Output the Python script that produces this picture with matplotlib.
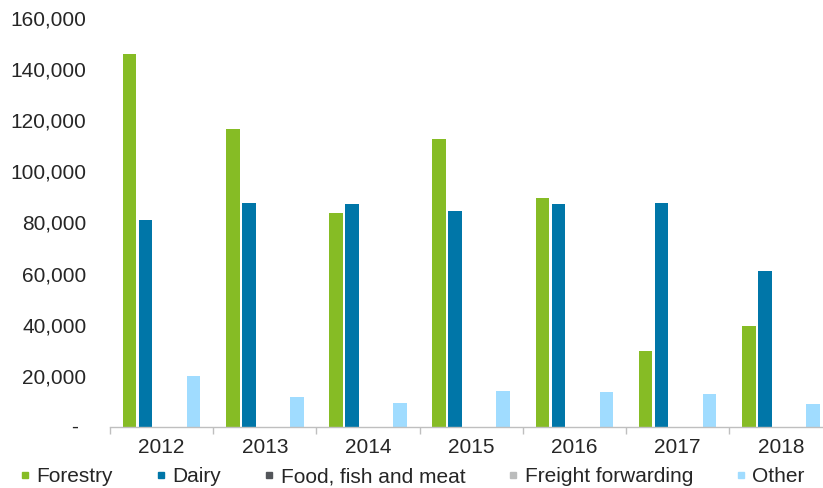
import matplotlib
matplotlib.use("Agg")
import matplotlib.pyplot as plt
from matplotlib.lines import Line2D
from matplotlib.ticker import FuncFormatter
import numpy as np

years = ["2012", "2013", "2014", "2015", "2016", "2017", "2018"]
series_names = ["Forestry", "Dairy", "Food, fish and meat", "Freight forwarding", "Other"]
forestry = [146000, 116700, 83700, 112800, 89700, 29600, 39600]
dairy = [81100, 87800, 87200, 84600, 87200, 87800, 61100]
food_fish_meat = [0, 0, 0, 0, 0, 0, 0]
freight_forwarding = [0, 0, 0, 0, 0, 0, 0]
other = [20000, 11600, 9500, 14100, 13500, 13000, 9000]
yticks = [0, 20000, 40000, 60000, 80000, 100000, 120000, 140000, 160000]

colors = ["#86BC25", "#0076A8", "#53565A", "#BBBCBC", "#A0DCFF"]
series = [forestry, dairy, food_fish_meat, freight_forwarding, other]

plt.rcParams['font.family'] = ['Liberation Sans', 'DejaVu Sans']
text_color = "#262626"
fs = 15

fig = plt.figure(figsize=(8.23, 4.88), dpi=100)
ax = fig.add_axes([110/823, 61/488, (7*103.2)/823, (427-18)/488])

x = np.arange(len(years))
step = 0.155
width = 0.133
for i, (name, vals, c) in enumerate(zip(series_names, series, colors)):
    ax.bar(x + (i-2)*step, vals, width=width, color=c, label=name, zorder=2)

ax.set_xlim(-0.5, len(years)-0.5)
ax.set_ylim(0, 160000)
ax.set_yticks(yticks)
ax.yaxis.set_major_formatter(FuncFormatter(lambda v, p: "" if v == 0 else f"{int(v):,}"))
ax.tick_params(axis='y', length=0, pad=17, labelsize=fs, labelcolor=text_color)

ax.set_xticks(x)
ax.set_xticklabels(years)
ax.set_xticks(np.arange(-0.5, len(years)), minor=True)
ax.tick_params(axis='x', which='major', length=0, pad=8, labelsize=fs, labelcolor=text_color)
ax.tick_params(axis='x', which='minor', length=5, width=1, color="#BFBFBF", direction='out')

for s in ['top', 'right', 'left']:
    ax.spines[s].set_visible(False)
ax.spines['bottom'].set_color("#BFBFBF")
ax.spines['bottom'].set_linewidth(1)

ax.annotate("-", xy=(0, 0), xycoords=('axes fraction', 'data'),
            xytext=(-30/100*72/1.0*0 - 23, 0), textcoords='offset points',
            ha='right', va='center', fontsize=fs, color=text_color)

handles = [Line2D([0], [0], marker='s', linestyle='none', markersize=4.2,
                  markerfacecolor=c, markeredgecolor=c) for c in colors]
fig.legend(handles, series_names, loc='center left',
           bbox_to_anchor=(20/823, 1 - 477/488), ncol=5, frameon=False,
           fontsize=fs, handlelength=0.5, handletextpad=0.3, columnspacing=2.05,
           borderpad=0, borderaxespad=0, labelcolor=text_color)

fig.savefig("out.png", dpi=100)
